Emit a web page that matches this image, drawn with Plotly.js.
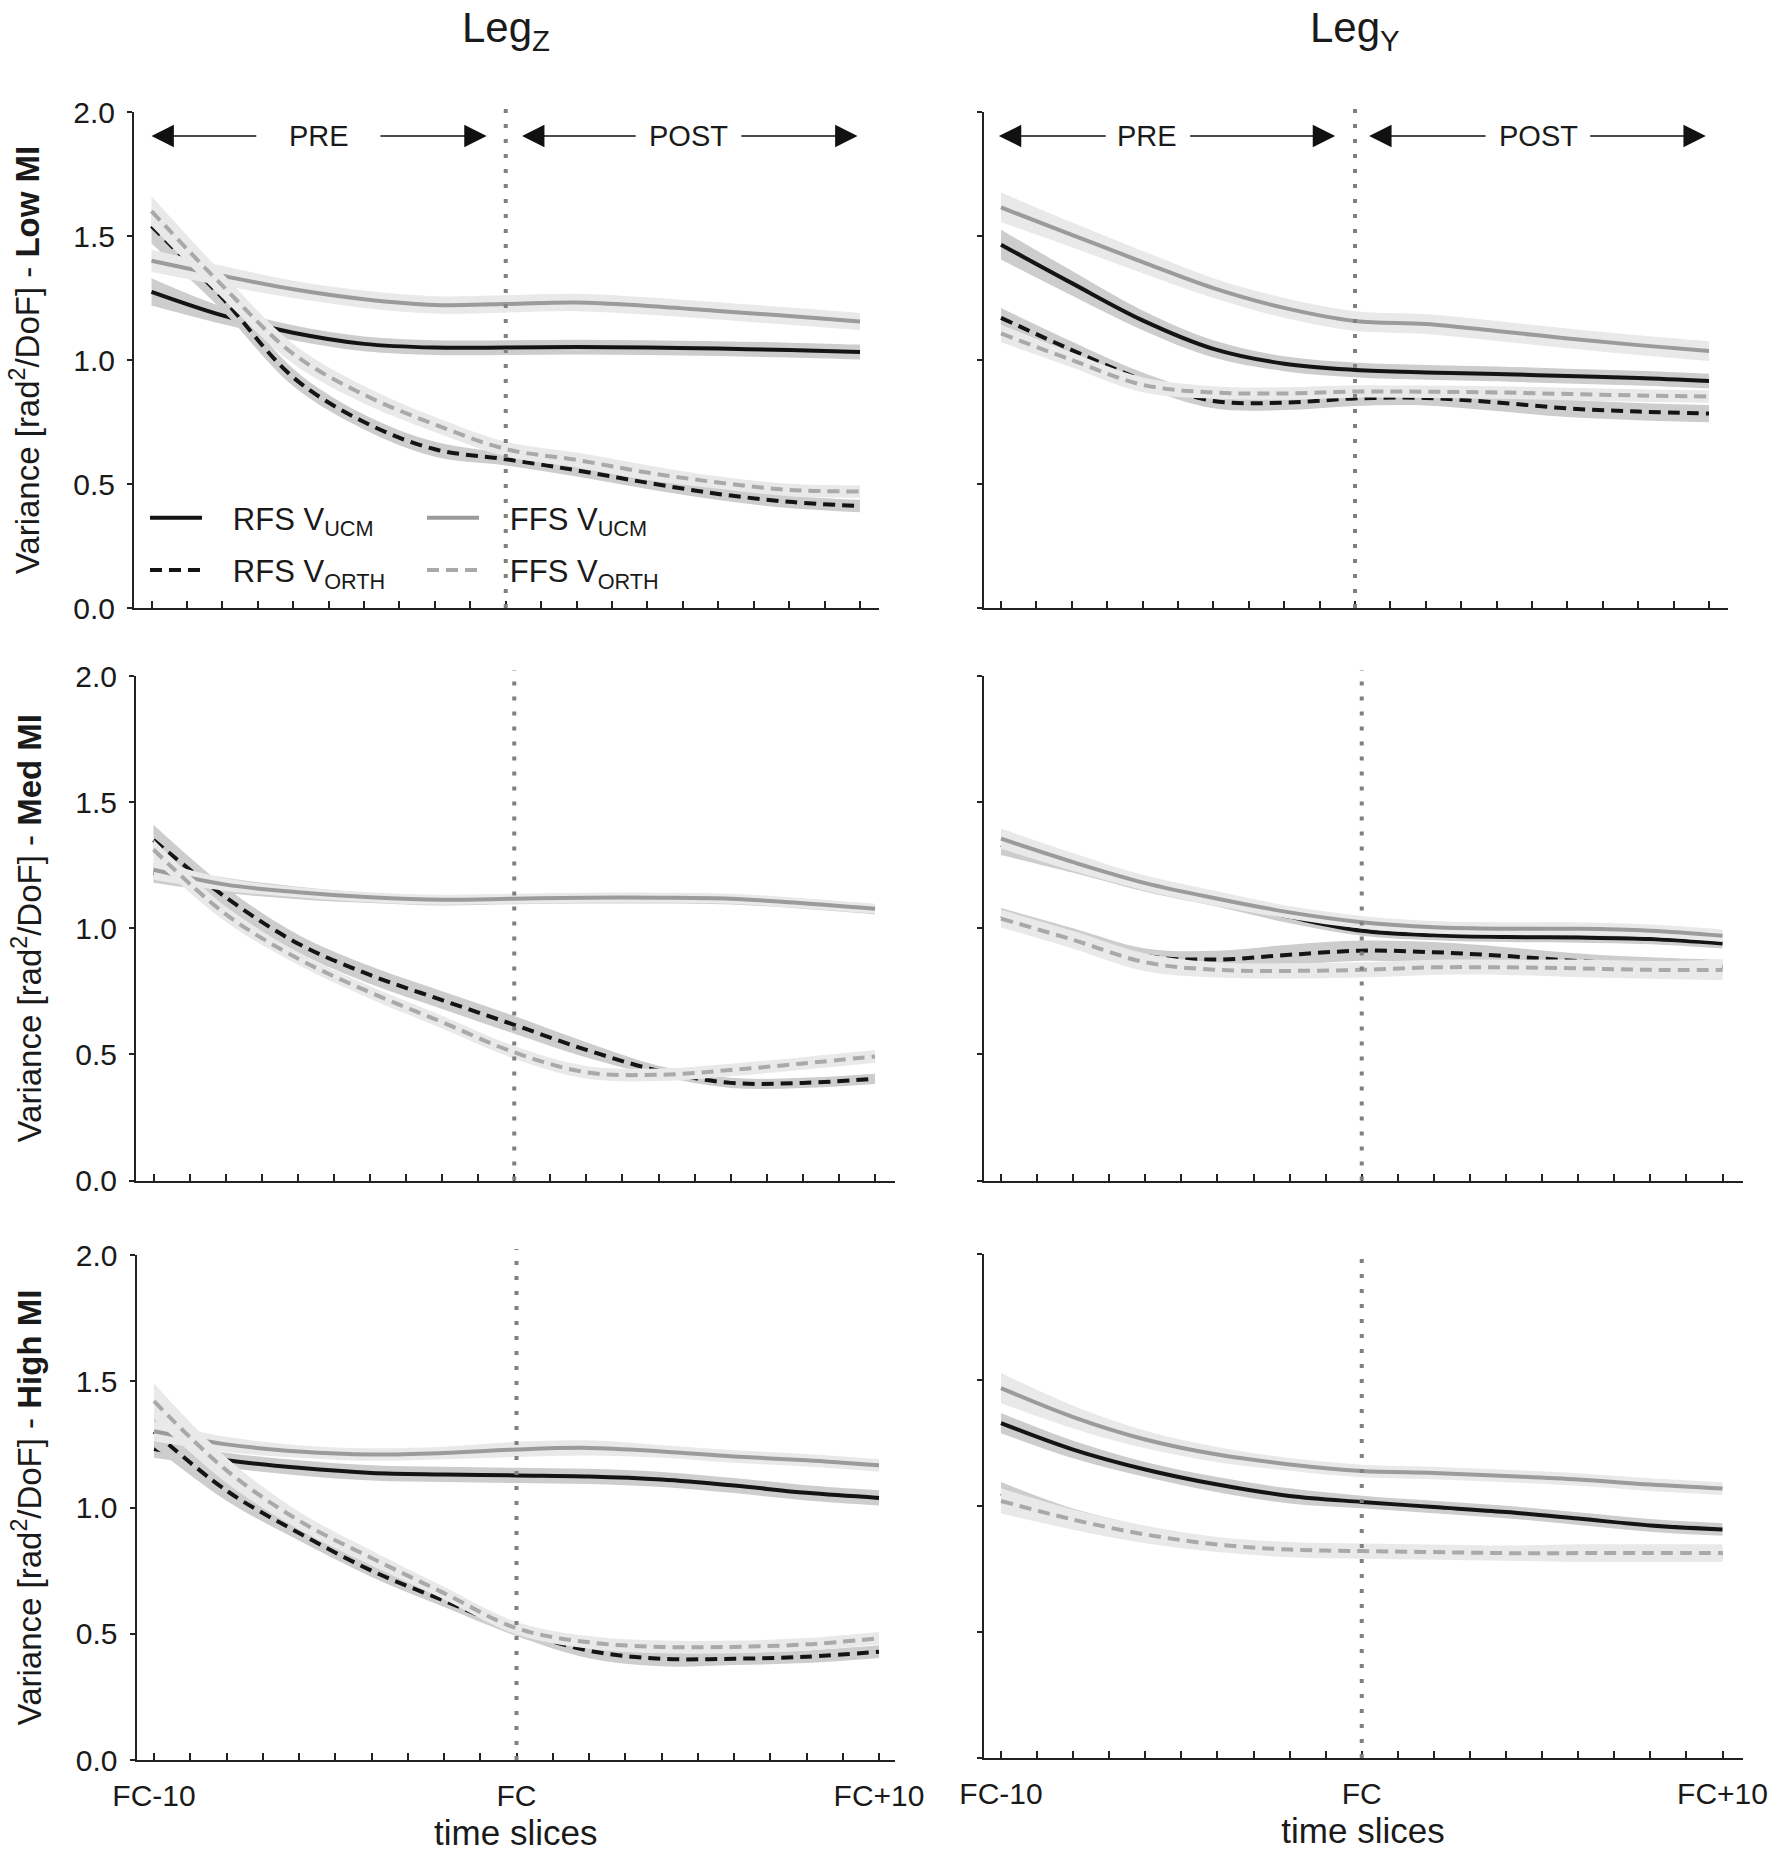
<!DOCTYPE html>
<html>
<head>
<meta charset="utf-8">
<script src="https://cdn.plot.ly/plotly-3.0.1.min.js"></script>
<style>
html,body{margin:0;padding:0;background:#ffffff;}
#chart{width:1770px;height:1852px;}
</style>
</head>
<body>
<div id="chart"></div>
<script>
// ---------------- DATA ----------------
const slices = [-10, -8, -6, -4, -2, 0, 2, 4, 6, 8, 10];
const tickSlices = [-10, -9, -8, -7, -6, -5, -4, -3, -2, -1, 0, 1, 2, 3, 4, 5, 6, 7, 8, 9, 10];
const labeledSlices = [-10, 0, 10];
const labeledSliceText = ["FC-10", "FC", "FC+10"];
const yTickVals = [0, 0.5, 1.0, 1.5, 2.0];
const yTickText = ["0.0", "0.5", "1.0", "1.5", "2.0"];
const columnTitles = ["Leg<sub>Z</sub>", "Leg<sub>Y</sub>"];
const rowLabels = ["Low MI", "Med MI", "High MI"];
const seriesNames = ["RFS V<sub>UCM</sub>", "RFS V<sub>ORTH</sub>", "FFS V<sub>UCM</sub>", "FFS V<sub>ORTH</sub>"];
const phaseLabels = ["PRE", "POST"];
const xTitle = "time slices";

// Leg Z - Low MI
const zLow_rfsUcm   = [1.275, 1.18, 1.11, 1.065, 1.05, 1.05, 1.052, 1.05, 1.046, 1.04, 1.032];
const zLow_rfsOrth  = [1.54, 1.25, 0.93, 0.75, 0.64, 0.60, 0.555, 0.505, 0.46, 0.428, 0.411];
const zLow_ffsUcm   = [1.40, 1.34, 1.285, 1.245, 1.222, 1.226, 1.232, 1.218, 1.198, 1.177, 1.155];
const zLow_ffsOrth  = [1.60, 1.30, 1.025, 0.86, 0.74, 0.641, 0.597, 0.546, 0.506, 0.476, 0.47];
const zLow_rfsUcmCI  = [0.055, 0.035, 0.03, 0.03, 0.03, 0.03, 0.03, 0.03, 0.03, 0.03, 0.03];
const zLow_rfsOrthCI = [0.07, 0.05, 0.035, 0.03, 0.03, 0.025, 0.025, 0.025, 0.025, 0.025, 0.025];
const zLow_ffsUcmCI  = [0.045, 0.04, 0.035, 0.035, 0.035, 0.035, 0.035, 0.035, 0.035, 0.035, 0.035];
const zLow_ffsOrthCI = [0.06, 0.05, 0.04, 0.035, 0.03, 0.03, 0.03, 0.03, 0.025, 0.025, 0.025];

// Leg Y - Low MI
const yLow_rfsUcm   = [1.465, 1.31, 1.16, 1.045, 0.985, 0.96, 0.95, 0.944, 0.935, 0.927, 0.915];
const yLow_rfsOrth  = [1.17, 1.04, 0.92, 0.835, 0.828, 0.845, 0.847, 0.829, 0.805, 0.792, 0.784];
const yLow_ffsUcm   = [1.615, 1.505, 1.395, 1.29, 1.21, 1.157, 1.145, 1.117, 1.087, 1.06, 1.036];
const yLow_ffsOrth  = [1.107, 1.0, 0.90, 0.869, 0.865, 0.873, 0.872, 0.869, 0.863, 0.857, 0.853];
const yLow_rfsUcmCI  = [0.06, 0.05, 0.04, 0.035, 0.03, 0.03, 0.03, 0.03, 0.03, 0.03, 0.03];
const yLow_rfsOrthCI = [0.04, 0.035, 0.03, 0.03, 0.03, 0.03, 0.03, 0.035, 0.035, 0.035, 0.035];
const yLow_ffsUcmCI  = [0.06, 0.05, 0.045, 0.04, 0.04, 0.04, 0.04, 0.04, 0.04, 0.04, 0.04];
const yLow_ffsOrthCI = [0.035, 0.03, 0.03, 0.025, 0.025, 0.025, 0.025, 0.025, 0.025, 0.025, 0.025];

// Leg Z - Med MI
const zMed_rfsUcm   = [1.22, 1.17, 1.14, 1.12, 1.11, 1.115, 1.118, 1.118, 1.114, 1.097, 1.075];
const zMed_rfsOrth  = [1.35, 1.123, 0.94, 0.815, 0.715, 0.617, 0.518, 0.435, 0.387, 0.387, 0.403];
const zMed_ffsUcm   = [1.232, 1.173, 1.143, 1.123, 1.113, 1.117, 1.121, 1.121, 1.117, 1.099, 1.077];
const zMed_ffsOrth  = [1.312, 1.056, 0.88, 0.746, 0.628, 0.508, 0.429, 0.419, 0.438, 0.464, 0.492];
const zMed_rfsUcmCI  = [0.04, 0.03, 0.025, 0.02, 0.02, 0.02, 0.02, 0.02, 0.02, 0.02, 0.02];
const zMed_rfsOrthCI = [0.06, 0.04, 0.035, 0.035, 0.035, 0.035, 0.03, 0.02, 0.02, 0.02, 0.02];
const zMed_ffsUcmCI  = [0.04, 0.025, 0.02, 0.02, 0.02, 0.02, 0.02, 0.02, 0.02, 0.02, 0.02];
const zMed_ffsOrthCI = [0.04, 0.03, 0.025, 0.025, 0.025, 0.025, 0.025, 0.025, 0.025, 0.025, 0.025];

// Leg Y - Med MI
const yMed_rfsUcm   = [1.33, 1.255, 1.175, 1.11, 1.045, 0.99, 0.972, 0.965, 0.963, 0.957, 0.94];
const yMed_rfsOrth  = [1.05, 0.97, 0.89, 0.876, 0.895, 0.911, 0.905, 0.89, 0.87, 0.855, 0.845];
const yMed_ffsUcm   = [1.355, 1.262, 1.179, 1.117, 1.063, 1.024, 1.004, 0.998, 0.998, 0.99, 0.97];
const yMed_ffsOrth  = [1.038, 0.954, 0.865, 0.835, 0.831, 0.835, 0.845, 0.845, 0.841, 0.835, 0.835];
const yMed_rfsUcmCI  = [0.04, 0.035, 0.03, 0.025, 0.025, 0.02, 0.02, 0.02, 0.02, 0.02, 0.02];
const yMed_rfsOrthCI = [0.03, 0.03, 0.03, 0.035, 0.04, 0.04, 0.04, 0.035, 0.03, 0.03, 0.03];
const yMed_ffsUcmCI  = [0.04, 0.035, 0.03, 0.03, 0.025, 0.025, 0.025, 0.025, 0.025, 0.025, 0.025];
const yMed_ffsOrthCI = [0.035, 0.035, 0.035, 0.03, 0.03, 0.03, 0.03, 0.03, 0.035, 0.035, 0.04];

// Leg Z - High MI
const zHigh_rfsUcm  = [1.232, 1.187, 1.157, 1.137, 1.131, 1.127, 1.123, 1.111, 1.087, 1.058, 1.038];
const zHigh_rfsOrth = [1.30, 1.067, 0.899, 0.75, 0.631, 0.516, 0.433, 0.401, 0.401, 0.409, 0.429];
const zHigh_ffsUcm  = [1.302, 1.25, 1.222, 1.21, 1.216, 1.23, 1.236, 1.222, 1.202, 1.187, 1.167];
const zHigh_ffsOrth = [1.421, 1.147, 0.948, 0.80, 0.661, 0.522, 0.466, 0.448, 0.448, 0.458, 0.482];
const zHigh_rfsUcmCI  = [0.035, 0.03, 0.03, 0.03, 0.03, 0.03, 0.03, 0.03, 0.03, 0.03, 0.03];
const zHigh_rfsOrthCI = [0.06, 0.04, 0.03, 0.025, 0.025, 0.025, 0.03, 0.03, 0.025, 0.025, 0.025];
const zHigh_ffsUcmCI  = [0.04, 0.03, 0.025, 0.025, 0.025, 0.03, 0.03, 0.025, 0.025, 0.025, 0.025];
const zHigh_ffsOrthCI = [0.07, 0.05, 0.035, 0.03, 0.025, 0.025, 0.025, 0.025, 0.025, 0.025, 0.025];

// Leg Y - High MI
const yHigh_rfsUcm  = [1.329, 1.224, 1.145, 1.085, 1.04, 1.016, 0.996, 0.976, 0.95, 0.923, 0.907];
const yHigh_rfsOrth = [1.05, 0.955, 0.89, 0.85, 0.83, 0.823, 0.818, 0.815, 0.813, 0.812, 0.812];
const yHigh_ffsUcm  = [1.468, 1.353, 1.264, 1.204, 1.165, 1.139, 1.131, 1.119, 1.105, 1.085, 1.069];
const yHigh_ffsOrth = [1.02, 0.946, 0.887, 0.847, 0.827, 0.821, 0.817, 0.813, 0.813, 0.813, 0.813];
const yHigh_rfsUcmCI  = [0.04, 0.035, 0.03, 0.03, 0.03, 0.025, 0.025, 0.025, 0.025, 0.025, 0.025];
const yHigh_rfsOrthCI = [0.045, 0.035, 0.03, 0.02, 0.02, 0.02, 0.02, 0.02, 0.02, 0.02, 0.02];
const yHigh_ffsUcmCI  = [0.06, 0.045, 0.035, 0.03, 0.025, 0.025, 0.025, 0.025, 0.025, 0.025, 0.025];
const yHigh_ffsOrthCI = [0.05, 0.04, 0.035, 0.03, 0.03, 0.03, 0.03, 0.03, 0.035, 0.035, 0.035];

// ---------------- BUILD ----------------
const W = 1770, H = 1852;
const FONT = "'Liberation Sans', Arial, Helvetica, sans-serif";
const TXT = "#1a1a1a";

const panels = [
  {series: [[zLow_rfsUcm, zLow_rfsUcmCI], [zLow_rfsOrth, zLow_rfsOrthCI], [zLow_ffsUcm, zLow_ffsUcmCI], [zLow_ffsOrth, zLow_ffsOrthCI]]},
  {series: [[yLow_rfsUcm, yLow_rfsUcmCI], [yLow_rfsOrth, yLow_rfsOrthCI], [yLow_ffsUcm, yLow_ffsUcmCI], [yLow_ffsOrth, yLow_ffsOrthCI]]},
  {series: [[zMed_rfsUcm, zMed_rfsUcmCI], [zMed_rfsOrth, zMed_rfsOrthCI], [zMed_ffsUcm, zMed_ffsUcmCI], [zMed_ffsOrth, zMed_ffsOrthCI]]},
  {series: [[yMed_rfsUcm, yMed_rfsUcmCI], [yMed_rfsOrth, yMed_rfsOrthCI], [yMed_ffsUcm, yMed_ffsUcmCI], [yMed_ffsOrth, yMed_ffsOrthCI]]},
  {series: [[zHigh_rfsUcm, zHigh_rfsUcmCI], [zHigh_rfsOrth, zHigh_rfsOrthCI], [zHigh_ffsUcm, zHigh_ffsUcmCI], [zHigh_ffsOrth, zHigh_ffsOrthCI]]},
  {series: [[yHigh_rfsUcm, yHigh_rfsUcmCI], [yHigh_rfsOrth, yHigh_rfsOrthCI], [yHigh_ffsUcm, yHigh_ffsUcmCI], [yHigh_ffsOrth, yHigh_ffsOrthCI]]}
];

// panel geometry in pixels: axis extent (x0..x1), pixel of first/last slice tick, y top (2.0) / bottom (0.0)
const geom = [
  {x0: 134,   x1: 879,    tA: 151.5, tB: 860,    yT: 112,  yB: 608},
  {x0: 984,   x1: 1727.5, tA: 1001,  tB: 1709,   yT: 112,  yB: 608},
  {x0: 136,   x1: 895,    tA: 153.5, tB: 875,    yT: 676,  yB: 1180.5},
  {x0: 984,   x1: 1742.5, tA: 1001,  tB: 1722.5, yT: 676,  yB: 1180.5},
  {x0: 136.5, x1: 895,    tA: 154,   tB: 879,    yT: 1255, yB: 1760},
  {x0: 983.5, x1: 1742.5, tA: 1001,  tB: 1722.5, yT: 1254, yB: 1758}
];

const seriesStyle = [
  {color: "#141414", dash: "solid",    band: "#cdcdcd", legend: "legend",  group: "g1"},
  {color: "#141414", dash: "12px,7px", band: "#cdcdcd", legend: "legend",  group: "g2"},
  {color: "#9b9b9b", dash: "solid",    band: "#e9e9e9", legend: "legend2", group: "g3"},
  {color: "#a9a9a9", dash: "12px,7px", band: "#e9e9e9", legend: "legend2", group: "g4"}
];

const traces = [];
const layout = {
  width: W, height: H,
  margin: {l: 0, r: 0, t: 0, b: 0},
  paper_bgcolor: "#ffffff",
  plot_bgcolor: "rgba(0,0,0,0)",
  font: {family: FONT, color: TXT, size: 30},
  showlegend: true,
  shapes: [],
  annotations: []
};

panels.forEach((p, i) => {
  const g = geom[i];
  const n = i + 1;
  const xa = n === 1 ? "x" : "x" + n;
  const ya = n === 1 ? "y" : "y" + n;
  const row = Math.floor(i / 2), col = i % 2;
  const unit = (g.tB - g.tA) / 20;
  const xr = [-10 - (g.tA - g.x0) / unit, 10 + (g.x1 - g.tB) / unit];

  p.series.forEach((s, k) => {
    const mean = s[0], ci = s[1];
    const st = seriesStyle[k];
    const lo = mean.map((v, j) => v - ci[j]);
    const hi = mean.map((v, j) => v + ci[j]);
    traces.push({x: slices, y: lo, xaxis: xa, yaxis: ya, mode: "lines",
      line: {width: 0, shape: "spline", color: st.band}, showlegend: false, hoverinfo: "skip"});
    traces.push({x: slices, y: hi, xaxis: xa, yaxis: ya, mode: "lines", fill: "tonexty",
      fillcolor: st.band, line: {width: 0, shape: "spline", color: st.band}, showlegend: false, hoverinfo: "skip"});
    traces.push({x: slices, y: mean, xaxis: xa, yaxis: ya, mode: "lines",
      line: {width: 4, shape: "spline", color: st.color, dash: st.dash},
      name: "\u00a0\u00a0\u00a0" + seriesNames[k], legend: st.legend, legendgroup: st.group,
      showlegend: i === 0, hoverinfo: "skip"});
  });

  const xKey = n === 1 ? "xaxis" : "xaxis" + n;
  const yKey = n === 1 ? "yaxis" : "yaxis" + n;
  const bottom = row === 2;
  layout[xKey] = {
    domain: [g.x0 / W, g.x1 / W], range: xr, anchor: ya,
    showgrid: false, zeroline: false, showline: true, linecolor: "#222", linewidth: 2,
    ticks: "inside", ticklen: 7, tickwidth: 2, tickcolor: "#222",
    tickmode: "array", tickvals: labeledSlices, ticktext: labeledSliceText,
    minor: {tickmode: "array", tickvals: tickSlices, ticks: "inside", ticklen: 7, tickwidth: 2, tickcolor: "#222", showgrid: false},
    showticklabels: bottom, tickfont: {size: 30, color: TXT}, ticklabelstandoff: 8,
    fixedrange: true
  };
  if (bottom) layout[xKey].title = {text: xTitle, font: {size: 35, color: TXT}, standoff: 9};
  layout[yKey] = {
    domain: [1 - g.yB / H, 1 - g.yT / H], range: [0, 2], anchor: xa,
    showgrid: false, zeroline: false, showline: true, linecolor: "#222", linewidth: 2,
    ticks: "outside", ticklen: 5, tickwidth: 2, tickcolor: "#222",
    tickmode: "array", tickvals: yTickVals, ticktext: yTickText,
    showticklabels: col === 0, tickfont: {size: 30, color: TXT}, ticklabelstandoff: 6,
    fixedrange: true
  };
  if (col === 0) layout[yKey].title = {
    text: "Variance [rad<sup>2</sup>/DoF] - <b>" + rowLabels[row] + "</b>",
    font: {size: 33, color: TXT}, standoff: 24
  };

  // FC reference line
  layout.shapes.push({type: "line", xref: xa, yref: ya + " domain", x0: 0, x1: 0, y0: 0, y1: 1.012,
    line: {color: "#808080", width: 4, dash: "4px,11px"}, layer: "above"});
});

// PRE / POST arrows (top row)
const arrowCfg = [
  {xa: "x",  ya: "y",  pre: [[-10, -7.0], -5.28, [-3.58, -0.54]], post: [[0.46, 3.71], 5.17, [6.61, 9.93]]},
  {xa: "x2", ya: "y2", pre: [[-10.06, -7.0], -5.87, [-4.7, -0.56]], post: [[0.4, 3.73], 5.17, [6.6, 9.91]]}
];
const arrowY = 1.903;
const arrowStyle = {arrowhead: 2, arrowsize: 2.8, arrowwidth: 1.6, arrowcolor: "#111", standoff: 0, startstandoff: 0};
arrowCfg.forEach(c => {
  [c.pre, c.post].forEach((a, idx) => {
    layout.annotations.push(Object.assign({xref: c.xa, yref: c.ya, axref: c.xa, ayref: c.ya,
      x: a[0][0], y: arrowY, ax: a[0][1], ay: arrowY, text: "", showarrow: true}, arrowStyle));
    layout.annotations.push(Object.assign({xref: c.xa, yref: c.ya, axref: c.xa, ayref: c.ya,
      x: a[2][1], y: arrowY, ax: a[2][0], ay: arrowY, text: "", showarrow: true}, arrowStyle));
    layout.annotations.push({xref: c.xa, yref: c.ya, x: a[1], y: arrowY, text: phaseLabels[idx],
      showarrow: false, font: {size: 29, color: TXT}, xanchor: "center", yanchor: "middle"});
  });
});

// column titles
const colTitleX = [506, 1355];
columnTitles.forEach((t, c) => {
  layout.annotations.push({xref: "paper", yref: "paper", x: colTitleX[c] / W, y: 1 - 31 / H,
    text: t, showarrow: false, font: {size: 42, color: TXT}, xanchor: "center", yanchor: "middle"});
});

// legends (two columns inside top-left panel)
const legendBase = {bgcolor: "rgba(0,0,0,0)", borderwidth: 0, font: {size: 31, color: TXT},
  itemwidth: 52, tracegroupgap: 9, yanchor: "top", xanchor: "left", orientation: "v",
  itemclick: false, itemdoubleclick: false};
layout.legend = Object.assign({}, legendBase, {x: 145 / W, y: 1 - 491 / H});
layout.legend2 = Object.assign({}, legendBase, {x: 422 / W, y: 1 - 491 / H});

Plotly.newPlot("chart", traces, layout, {displayModeBar: false, staticPlot: true});
</script>
</body>
</html>
